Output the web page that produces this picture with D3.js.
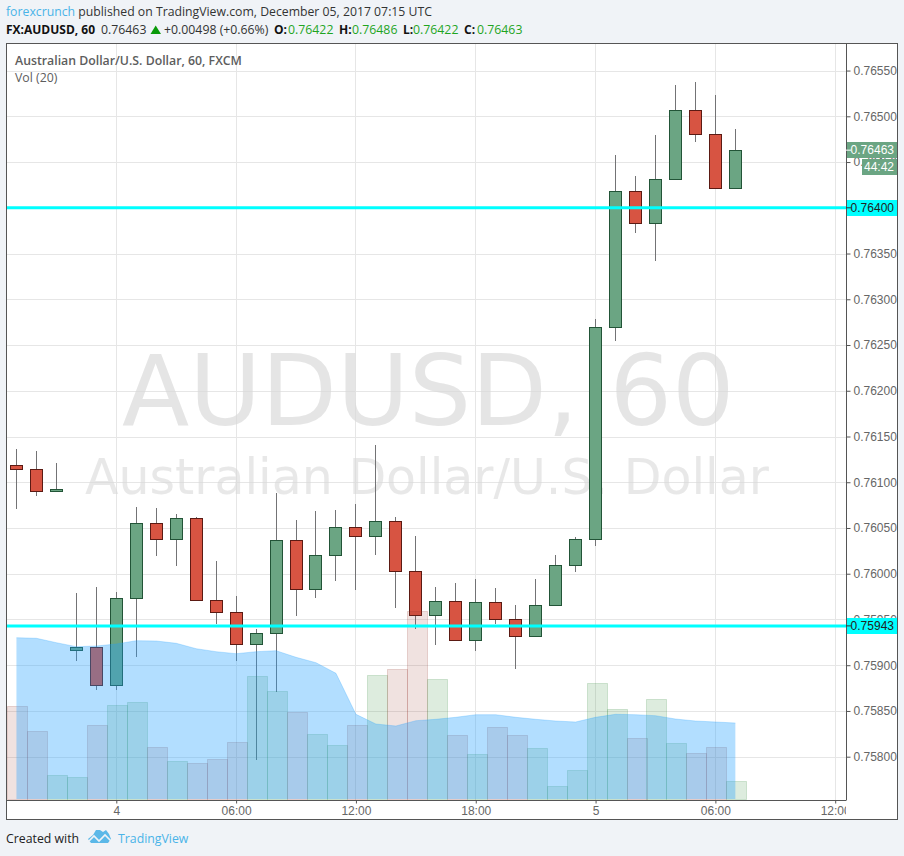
<!DOCTYPE html>
<html><head><meta charset="utf-8">
<script src="https://cdn.jsdelivr.net/npm/d3@7"></script>
<style>html,body{margin:0;padding:0;background:#f0f3f7}svg{display:block}</style>
</head><body><svg id="c" width="904" height="856"></svg>
<script>
const hours=d3.range(-5,32);
const opens=[76119,76115,76090,75917,75920,75878,75974,76055,76038,76061,75971,75958,75923,75935,76037,75983,76020,76051,76041,76058,76003,75955,75970,75928,75969,75950,75932,75966,76009,76038,76270,76418,76383,76432,76507,76481,76422];
const highs=[76136,76134,76121,75979,75985,75980,76073,76072,76065,76062,76014,75976,75940,76088,76059,76069,76070,76076,76141,76062,76041,75985,75990,75994,75984,75966,75994,76021,76040,76278,76458,76435,76480,76534,76538,76523,76486];
const lows=[76071,76085,76090,75905,75873,75873,75909,76019,76008,75971,75945,75905,75796,75871,75954,75973,75992,75982,76020,75962,75940,75922,75928,75915,75945,75896,75932,75966,76002,76030,76254,76372,76342,76432,76472,76421,76422];
const closes=[76115,76090,76093,75920,75878,75974,76055,76038,76061,75971,75958,75923,75935,76037,75983,76020,76051,76041,76058,76003,75955,75970,75928,75969,75950,75932,75966,76009,76038,76270,76418,76383,76432,76507,76481,76422,76463];
const volumes=[927,677,237,217,737,937,967,517,377,357,397,567,1227,1077,867,647,537,737,1237,1297,1877,1197,637,447,717,637,507,133,287,1157,897,607,997,557,457,517,177];
const volumeMA=[1613,1607,1563,1523,1530,1550,1583,1580,1557,1503,1473,1453,1473,1483,1417,1363,1257,847,750,730,783,797,817,843,843,817,797,780,770,817,847,843,833,800,780,770,760];
const priceTicks=[76550,76500,76450,76400,76350,76300,76250,76200,76150,76100,76050,76000,75950,75900,75850,75800];
const timeTicks=[0,6,12,18,24,30,36];
const timeLabels=["4","06:00","12:00","18:00","5","06:00","12:00"];
const levels=[76400,75943];
const lastPrice=76463;

const svg=d3.select("#c");
const SANS="'Liberation Sans',Arial,sans-serif", UI="'Open Sans',sans-serif", MARK="'DejaVu Sans',sans-serif";
const plot={l:7,r:846,t:44,b:800};
const x=d3.scaleLinear().domain([0,36]).range([116.3,835.2]);
const y=d3.scaleLinear().domain([75800,76500]).range([756.7,116.3]);
const v=d3.scaleLinear().domain([0,2000]).range([799,599]);
const fmt=p=>(p/100000).toFixed(5);

svg.append("rect").attr("x",6.5).attr("y",43.5).attr("width",891).attr("height",776).attr("fill","#fff").attr("stroke","#555");
const defs=svg.append("defs");
defs.append("clipPath").attr("id","plotclip").append("rect").attr("x",plot.l).attr("y",plot.t).attr("width",plot.r-plot.l).attr("height",plot.b-plot.t);
defs.append("clipPath").attr("id","timeclipx").append("rect").attr("x",plot.l-1).attr("y",-1).attr("width",plot.r-plot.l+1).attr("height",22);

const g=svg.append("g").attr("clip-path","url(#plotclip)");
// grid
g.selectAll("line.h").data(priceTicks).join("line").attr("class","h")
 .attr("x1",plot.l).attr("x2",plot.r).attr("y1",d=>Math.round(y(d))+.5).attr("y2",d=>Math.round(y(d))+.5).attr("stroke","#e6e6e6");
g.selectAll("line.v").data(timeTicks).join("line").attr("class","v")
 .attr("y1",plot.t).attr("y2",plot.b).attr("x1",d=>Math.floor(x(d))+.5).attr("x2",d=>Math.floor(x(d))+.5).attr("stroke","#e6e6e6");
// watermark
g.append("text").attr("x",122).attr("y",425).attr("font-family",MARK).attr("font-size",98.3).attr("fill","#d8d8d8").attr("fill-opacity",.68).text("AUDUSD, 60");
g.append("text").attr("x",85).attr("y",494).attr("font-family",MARK).attr("font-size",49).attr("fill","#d8d8d8").attr("fill-opacity",.58).text("Australian Dollar/U.S. Dollar");
// candles
const idx=d3.range(hours.length);
const cx=i=>Math.floor(x(hours[i]))+.5;
const up=i=>closes[i]>=opens[i];
g.selectAll("line.w").data(idx).join("line").attr("class","w")
 .attr("x1",cx).attr("x2",cx).attr("y1",i=>Math.round(y(highs[i]))).attr("y2",i=>Math.round(y(lows[i]))).attr("stroke","#737375");
g.selectAll("rect.b").data(idx).join("rect").attr("class","b")
 .attr("x",i=>cx(i)-6).attr("width",12)
 .attr("y",i=>Math.round(y(Math.max(opens[i],closes[i])))+.5)
 .attr("height",i=>Math.max(1,Math.round(y(Math.min(opens[i],closes[i])))-Math.round(y(Math.max(opens[i],closes[i])))))
 .attr("fill",i=>up(i)?"#6ba583":"#d75442").attr("stroke",i=>up(i)?"#225437":"#5b1a13");
// volume
g.selectAll("rect.vb").data(idx).join("rect").attr("class","vb")
 .attr("x",i=>Math.round(x(hours[i])+1-10)+.5).attr("width",20)
 .attr("y",i=>Math.round(v(volumes[i]))+.5).attr("height",i=>v(0)-Math.round(v(volumes[i])))
 .attr("fill",i=>up(i)?"rgba(56,142,60,.17)":"rgba(153,60,50,.15)")
 .attr("stroke",i=>up(i)?"rgba(56,142,60,.2)":"rgba(153,60,50,.2)");
g.append("path").datum(idx)
 .attr("d",d3.area().x(i=>x(hours[i])).y0(v(0)).y1(i=>v(volumeMA[i])))
 .attr("fill","rgba(33,160,255,.35)");
g.append("path").datum(idx)
 .attr("d",d3.line().x(i=>x(hours[i])).y(i=>v(volumeMA[i])))
 .attr("fill","none").attr("stroke","rgba(33,160,255,.25)");
// horizontal levels
g.selectAll("line.lv").data(levels).join("line").attr("class","lv")
 .attr("x1",plot.l).attr("x2",plot.r).attr("y1",d=>y(d)).attr("y2",d=>y(d)).attr("stroke","#00ffff").attr("stroke-width",3);

// axes
const ay=svg.append("g").attr("transform",`translate(${plot.r+.5},0)`).call(d3.axisRight(y).tickValues(priceTicks).tickFormat(fmt).tickSize(4).tickPadding(3));
ay.select(".domain").attr("d",`M0,${plot.t}V${plot.b+.5}`).attr("stroke","#555").attr("fill","none");
ay.selectAll(".tick line").attr("stroke","#555");
ay.selectAll("text").attr("font-family",SANS).attr("font-size",12).attr("fill","#666");
const ax=svg.append("g").attr("transform",`translate(0,${plot.b+.5})`).attr("clip-path","url(#timeclipx)");
ax.call(d3.axisBottom(x).tickValues(timeTicks).tickFormat((d,i)=>timeLabels[i]).tickSize(3).tickPadding(3));
ax.select(".domain").attr("d",`M${plot.l},0H${plot.r}`).attr("stroke","#555").attr("fill","none");
ax.selectAll(".tick line").attr("stroke","#555");
ax.selectAll("text").attr("font-family",SANS).attr("font-size",12).attr("fill","#666");

// price labels
function tag(x0,y0,w,h,fill,txt,col){
 svg.append("rect").attr("x",x0).attr("y",y0).attr("width",w).attr("height",h).attr("fill",fill);
 svg.append("text").attr("x",x0+w-3).attr("y",y0+h/2+4).attr("text-anchor","end").attr("font-family",SANS).attr("font-size",12).attr("fill",col).text(txt);
}
levels.forEach(l=>{
 const yy=y(l);
 tag(847,Math.round(yy)-8,50,16,"#00ffff",fmt(l),"#222");
 svg.append("line").attr("x1",846).attr("x2",851).attr("y1",yy).attr("y2",yy).attr("stroke","#333");
});
const ly=y(lastPrice);
tag(847,Math.round(ly)-8,50,16,"#6ba583",fmt(lastPrice),"#fff");
svg.append("line").attr("x1",846).attr("x2",851).attr("y1",ly).attr("y2",ly).attr("stroke","#fff");
tag(862,Math.round(ly)+9,35,16,"#6ba583","44:42","#fff");

// titles inside the chart
svg.append("text").attr("x",15).attr("y",64.5).attr("font-family",UI).attr("font-size",12.3).attr("font-weight",600).attr("fill","#5d5d5d").text("Australian Dollar/U.S. Dollar, 60, FXCM");
svg.append("text").attr("x",15).attr("y",82).attr("font-family",UI).attr("font-size",12.3).attr("fill","#5d5d5d").text("Vol (20)");

// header
const h1=svg.append("text").attr("x",6).attr("y",16).attr("font-family",UI).attr("font-size",12.25).attr("fill","#333");
h1.append("tspan").attr("fill","#4ab3e8").text("forexcrunch");
h1.append("tspan").text(" published on TradingView.com, December 05, 2017 07:15 UTC");
const line2=[["FX:AUDUSD, 60",6,"b","#111"],["0.76463",101,"","#333"],["+0.00498 (+0.66%)",164,"","#333"],
 ["O:",274,"b","#111"],["0.76422",288,"","#1fa51f"],["H:",339,"b","#111"],["0.76486",352,"","#1fa51f"],
 ["L:",403,"b","#111"],["0.76422",413,"","#1fa51f"],["C:",464,"b","#111"],["0.76463",477,"","#1fa51f"]];
svg.selectAll("text.h2").data(line2).join("text").attr("class","h2").attr("x",d=>d[1]).attr("y",34).attr("font-family",UI).attr("font-size",d=>d[2]?12:12.3)
 .attr("font-weight",d=>d[2]?700:400).attr("fill",d=>d[3]).text(d=>d[0]);
svg.append("path").attr("d","M150.5,34L155.7,25.5L161,34Z").attr("fill","#0a9a0a");

// footer
svg.append("text").attr("x",6).attr("y",843).attr("font-family",UI).attr("font-size",12.3).attr("fill","#222").text("Created with");
svg.append("path").attr("d","M88,839L93,835L96,830L100,830L103,832L106,830L109,834L111,839L108,843L91,843Z").attr("fill","#5bb8e8");
svg.append("path").attr("d","M89,841L94,836L99,841L105,835L111,841").attr("fill","none").attr("stroke","#f0f3f7").attr("stroke-width",1.6);
svg.append("text").attr("x",118).attr("y",843).attr("font-family",UI).attr("font-size",12.3).attr("fill","#4ab3e8").text("TradingView");
</script></body></html>
